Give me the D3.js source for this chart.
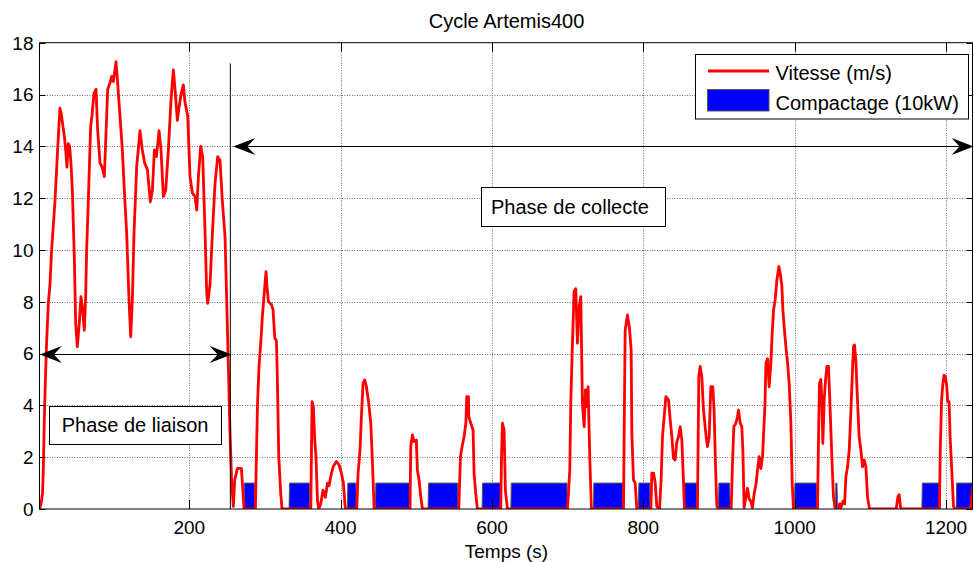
<!DOCTYPE html>
<html>
<head>
<meta charset="utf-8">
<script src="https://cdn.jsdelivr.net/npm/d3@7/dist/d3.min.js"></script>
<style>
  html, body { margin: 0; padding: 0; background: #fff; }
  svg { display: block; font-family: "Liberation Sans", Arial, sans-serif; }
</style>
</head>
<body>
<svg id="chart" width="974" height="562"></svg>
<script>
// ---------- DATA ----------
const title = "Cycle Artemis400";
const xLabel = "Temps (s)";
const xTicks = [200, 400, 600, 800, 1000, 1200];
const yTicks = [0, 2, 4, 6, 8, 10, 12, 14, 16, 18];

// Vitesse (m/s) vs time (s)
const time = [2,4,6,7,8.4,10,11.5,13.6,15.9,18,22.5,26,29,30.5,34.8,36.6,38.3,40,41.8,43.6,45.4,48,49.8,52,54.6,56.8,59,61.2,63,64.3,66.5,69.6,71.4,74,76.7,78.9,82,84.7,87.7,89.9,92.1,95.2,97.4,99.6,103.1,105.3,108.4,111.5,114.1,117.2,120.3,122.5,124.7,126.9,130.4,134.8,137.9,141,144.6,148.5,151.2,153.8,156.5,160,162.6,165.7,168.8,172.3,175.8,178.9,181.1,184.2,186.4,189,192.1,194.3,197.9,200.9,204,207.5,209.8,212,215,217.7,220.8,223,224.3,227.4,230.5,234,237.5,240.5,243.6,247.2,249.4,251.6,253.8,256,258.2,
260,263.5,268.8,271,272.3,287.3,290,292.1,294.4,296.5,299.7,301.4,302.6,304.5,308.4,310.6,312.9,315.1,316.3,318.2,320.8,322.5,360.5,362.2,363.9,365.8,367.5,369.3,371,373.7,376.7,379.8,382.5,384.7,386.9,390,394.4,397.9,401,403.6,406.2,421.3,423,425.6,427.4,429.6,431.8,434,437.1,439.8,441.9,444.2,491.7,492.6,494.8,497,500,501.4,503.6,505.9,508,556.1,558.3,560.5,563.1,565.4,566.7,568.9,569.3,572,575,576.3,578.5,580.7,611.6,612.5,613.8,616,617.7,620.4,699.7,702.8,704.1,706.3,708.5,710.7,712.9,715.1,717.3,719.5,721.8,723.5,725.3,727,729.3,731.4,
773.8,774.6,776,779,781.6,783.9,784.8,787,789.2,791.4,810,811.2,813.5,815.7,817.8,821.4,823.5,825.3,827.5,829.8,833.3,835.5,837.7,839.8,842,844.3,846.5,848.7,850.9,853.1,854.4,871.5,873.3,875.1,877.3,879.5,883,884.8,887,889.2,891.8,893.5,895.3,897.1,899.3,916.1,917.8,919.6,922.3,924.4,925.8,928,930.1,931.5,933.2,935.4,937.6,939.8,942,944.2,946.5,949.1,950.8,953.1,955.3,957.5,960.8,962,964.2,966.3,968.5,970.3,972.1,974.2,976.5,979.1,980.9,983.1,984.4,986.2,988.4,990.6,992.7,995,996.7,998.4,
1030.2,1031.5,1032.8,1034.6,1035.9,1037.2,1039,1040.8,1042.5,1044.7,1046.9,1049.1,1051.3,1053.5,1058.1,1059.4,1061.2,1063.8,1066,1067.7,1069.9,1072.1,1073.4,1074.7,1076.4,1077.8,1079.1,1080.8,1083,1085.2,1087.5,1089.7,1091.9,1094.1,1096.3,1098.9,1134.2,1136.4,1138.1,1139.9,1141.6,1191.4,1192.3,1194.1,1195.9,1197.5,1199.2,1201,1202.3,1204.1,1205.4,1207.6,1209.9,1212.1,1232,1233.5,1235];
const speed = [0,0.2,0.6,1.5,3.5,5.2,6.5,7.9,8.7,10,11.9,13.9,15.47,15.3,14.4,13.86,13.2,14.1,14,13.35,12.3,9.74,7.17,6.27,7.17,8.2,7.7,6.9,8.2,10,11.9,14.76,15.2,16.05,16.2,14.6,13.35,13.2,12.83,14.5,16.2,16.44,16.7,16.5,17.27,16.44,15.15,13.86,12.3,10.65,8.07,6.65,8.07,10.65,13.2,14.6,13.86,13.35,13.1,11.86,12.3,13.86,13.6,14.6,13.86,12.06,12.3,13.86,15.8,16.95,16.2,15,15.5,16,16.37,15.7,15.15,12.83,12.2,12.06,11.54,12.83,14,13.6,10.65,8.33,7.94,8.7,10.65,12.58,13.6,13.47,11.9,10.5,8.07,5.5,2.92,0.99,0.1,
1.12,1.57,1.57,0.6,0,0,3.95,5.5,6.4,7.42,8.58,9.16,8.6,8,7.9,7.7,6.6,6.5,5.1,2,0.6,0,0,4.14,3.95,2.66,1.93,0.35,0,0.2,0.73,0.45,1,0.9,1.25,1.63,1.83,1.7,1.38,1,0,0,1.38,2.28,3.56,4.85,4.98,4.73,4.08,3.31,1.89,0,0,2.41,2.86,2.6,2.66,1.5,1.12,0.47,0,0,2.02,2.41,2.79,3.31,4.34,4.34,3.56,3.31,3.05,1.38,0.6,0,0,1.89,3.31,3.05,0.73,0,0,1.5,4.08,6.4,8.39,8.5,6.4,7.8,8.2,4.08,3.18,4.6,3.95,4.72,1.89,0,
0,2.79,6.9,7.49,7,6.14,2.92,1.12,1,0,0,1.38,1.38,1,0.1,0,1.12,2.79,3.56,4.34,4.2,3.44,2.79,1.96,1.89,2.6,2.79,3.18,2.67,1,0,0,5.1,5.5,5.1,3.82,2.79,2.41,2.79,4.72,4.72,3.82,1.76,0.1,0,0,1.76,3.18,3.31,3.56,3.82,3.31,3.18,2.28,0.05,0.45,0.8,0.4,0.3,0.05,0.6,1,1.5,2.02,1.56,2.02,4.08,5.63,5.8,4.72,5.63,6.78,7.68,8.07,8.84,9.36,9.1,8.6,7.68,7,6.27,5.63,4.85,3.31,1,0,
0,2.79,4.85,5,4.2,2.53,4.2,4.98,5.5,5.5,3.82,2.02,0.45,0,0,0.2,0.05,0.3,0.2,1.25,1.63,2.28,3.18,4.08,5.37,6.27,6.33,5.75,4.2,2.79,2.28,1.63,1.89,1.63,0.45,0,0,0.47,0.55,0.05,0,0,2.15,4.2,4.85,5.17,5.1,4.72,4.14,4.14,2.79,1.5,0.1,0,0,0.3,0.8];

// Compactage (10 kW) intervals, drawn at level 1
const compStart = [272.3, 331.8, 408.9, 445.9, 515.5, 586.9, 624.9, 734.0, 793.5, 854.3, 899.3, 999.7, 1053.9, 1168.1, 1213.5];
const compEnd   = [286.5, 359.2, 420.8, 491.3, 555.2, 611.6, 699.7, 772.9, 809.0, 870.7, 914.7, 1029.3, 1056.5, 1191.4, 1236];
const compLevel = 1;

// Annotations
const phaseBoundary = 254.2;
const liaisonArrow = { x0: 2.5, x1: 256, y: 6 };
const collecteArrow = { x0: 258, x1: 1236.5, y: 14 };
const legendLabels = ["Vitesse (m/s)", "Compactage (10kW)"];

// ---------- LAYOUT ----------
const svg = d3.select("#chart");
const L = 39.5, R = 972.5, T = 42.7, B = 509;
const x = d3.scaleLinear().domain([2, 1235]).range([L, R]);
const y = d3.scaleLinear().domain([0, 18]).range([B, T]);

svg.append("defs").append("clipPath").attr("id", "clip")
  .append("rect").attr("x", L).attr("y", T).attr("width", R - L).attr("height", B - T);

// plot background
svg.append("rect").attr("x", L).attr("y", T).attr("width", R - L).attr("height", B - T).attr("fill", "#fff");

// grid
const grid = svg.append("g").attr("stroke", "#6e6e6e").attr("stroke-width", 1).attr("stroke-dasharray", "1,1.5");
grid.selectAll("line.gx").data(xTicks).join("line")
  .attr("x1", d => Math.round(x(d)) + 0.5).attr("x2", d => Math.round(x(d)) + 0.5)
  .attr("y1", T).attr("y2", B);
grid.selectAll("line.gy").data(yTicks.filter(d => d > 0 && d < 18)).join("line")
  .attr("x1", L).attr("x2", R)
  .attr("y1", d => Math.round(y(d)) + 0.5).attr("y2", d => Math.round(y(d)) + 0.5);

// compactage areas
const plot = svg.append("g").attr("clip-path", "url(#clip)");
const area = d3.area().x(d => x(d[0])).y0(y(0)).y1(d => y(d[1]));
const compData = compStart.map((s, i) => [[s, 0], [s + 0.6, compLevel], [compEnd[i] - 0.6, compLevel], [compEnd[i], 0]]);
plot.selectAll("path.comp").data(compData).join("path")
  .attr("d", area).attr("fill", "#0000ff").attr("stroke", "#555").attr("stroke-width", 1);

// speed line
const line = d3.line().x((d, i) => x(time[i])).y(d => y(d));
plot.append("path").datum(speed).attr("d", line)
  .attr("fill", "none").attr("stroke", "#ff0000").attr("stroke-width", 2.8)
  .attr("stroke-linejoin", "round").attr("stroke-linecap", "round");

// axes box
svg.append("rect").attr("x", L).attr("y", T).attr("width", R - L).attr("height", B - T)
  .attr("fill", "none").attr("stroke", "#000").attr("stroke-width", 1);

// ticks (inward)
const tk = svg.append("g").attr("stroke", "#000").attr("stroke-width", 1);
xTicks.forEach(d => {
  const px = Math.round(x(d)) + 0.5;
  tk.append("line").attr("x1", px).attr("x2", px).attr("y1", B).attr("y2", B - 9);
  tk.append("line").attr("x1", px).attr("x2", px).attr("y1", T).attr("y2", T + 9);
});
yTicks.forEach(d => {
  const py = Math.round(y(d)) + 0.5;
  tk.append("line").attr("x1", L).attr("x2", L + 6).attr("y1", py).attr("y2", py);
  tk.append("line").attr("x1", R).attr("x2", R - 6).attr("y1", py).attr("y2", py);
});

// tick labels
svg.append("g").selectAll("text").data(xTicks).join("text")
  .attr("x", d => x(d)).attr("y", 534).attr("text-anchor", "middle")
  .attr("font-size", 19).attr("fill", "#000").text(d => d);
svg.append("g").selectAll("text").data(yTicks).join("text")
  .attr("x", 33.5).attr("y", d => y(d)).attr("dy", "0.36em").attr("text-anchor", "end")
  .attr("font-size", 19).attr("fill", "#000").text(d => d);

// titles
svg.append("text").attr("x", 506.5).attr("y", 28.3).attr("text-anchor", "middle")
  .attr("font-size", 20).attr("fill", "#000").text(title);
svg.append("text").attr("x", 506.5).attr("y", 557.5).attr("text-anchor", "middle")
  .attr("font-size", 19).attr("fill", "#000").text(xLabel);

// phase boundary line
svg.append("line").attr("x1", x(phaseBoundary)).attr("x2", x(phaseBoundary))
  .attr("y1", y(0)).attr("y2", y(17.2)).attr("stroke", "#000").attr("stroke-width", 1);

// double arrows
function arrowHead(tx, ty, dir) {
  const Lh = 22, W = 8.5, N = 14;
  return `M${tx},${ty} L${tx + dir * Lh},${ty - W} L${tx + dir * N},${ty} L${tx + dir * Lh},${ty + W} Z`;
}
function doubleArrow(a) {
  const x0 = x(a.x0), x1 = x(a.x1), yy = Math.round(y(a.y)) + 0.5;
  const g = svg.append("g");
  g.append("line").attr("x1", x0 + 5).attr("x2", x1 - 5).attr("y1", yy).attr("y2", yy)
    .attr("stroke", "#000").attr("stroke-width", 1);
  g.append("path").attr("d", arrowHead(x0, yy, 1)).attr("fill", "#000");
  g.append("path").attr("d", arrowHead(x1, yy, -1)).attr("fill", "#000");
}
doubleArrow(liaisonArrow);
doubleArrow(collecteArrow);

// text boxes
function textBox(bx, by, bw, bh, tx, ty, label) {
  svg.append("rect").attr("x", bx + 0.5).attr("y", by + 0.5).attr("width", bw).attr("height", bh)
    .attr("fill", "#fff").attr("stroke", "#000").attr("stroke-width", 1);
  svg.append("text").attr("x", tx).attr("y", ty).attr("font-size", 20).attr("fill", "#000").text(label);
}
textBox(49, 406, 172, 38, 61.7, 432.3, "Phase de liaison");
textBox(481, 187, 184, 39, 491, 213.5, "Phase de collecte");

// legend
const lg = svg.append("g");
lg.append("rect").attr("x", 695.5).attr("y", 54.5).attr("width", 273).attr("height", 64.5)
  .attr("fill", "#fff").attr("stroke", "#000").attr("stroke-width", 1);
lg.append("line").attr("x1", 708).attr("x2", 769).attr("y1", 71).attr("y2", 71)
  .attr("stroke", "#ff0000").attr("stroke-width", 2.8);
lg.append("rect").attr("x", 707.5).attr("y", 89.5).attr("width", 61.5).attr("height", 21.5)
  .attr("fill", "#0000ff").attr("stroke", "#555").attr("stroke-width", 1);
lg.append("text").attr("x", 775.5).attr("y", 80).attr("font-size", 20).attr("fill", "#000").text(legendLabels[0]);
lg.append("text").attr("x", 775.5).attr("y", 110).attr("font-size", 20).attr("fill", "#000").text(legendLabels[1]);
</script>
</body>
</html>
